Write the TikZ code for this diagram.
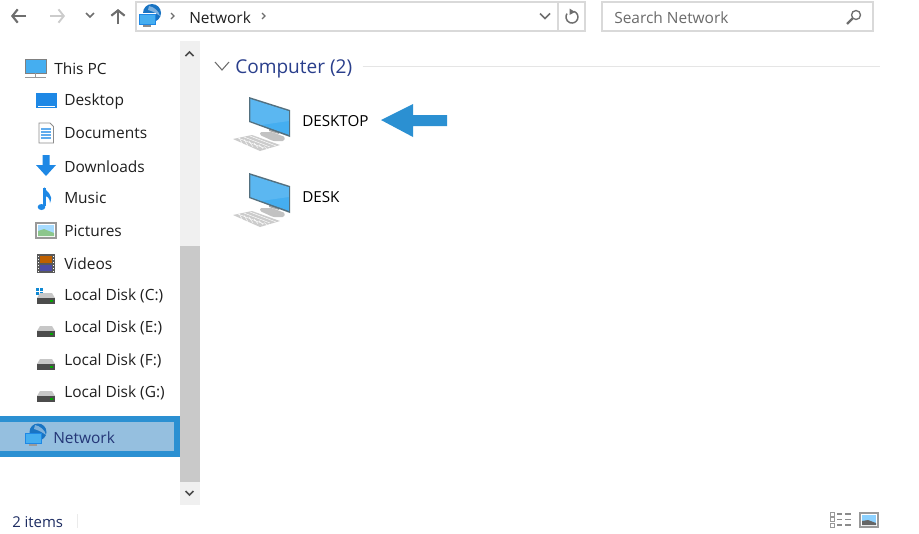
\documentclass[tikz,border=0pt]{standalone}
\usepackage{fontspec}
\usetikzlibrary{arrows.meta}
\setmainfont{Open Sans}
\definecolor{hlblue}{HTML}{2B90D2}
\definecolor{hlfill}{HTML}{95BFDF}
\definecolor{scrtrack}{HTML}{F0F0F0}
\definecolor{scrthumb}{HTML}{C9C9C9}
\definecolor{framegray}{HTML}{D9D9D9}
\definecolor{navgray}{HTML}{6E6E6E}
\definecolor{headblue}{HTML}{2A3F8C}
\definecolor{screenblue}{HTML}{45AEF0}
\definecolor{screenedge}{HTML}{54707F}
\definecolor{folderblue}{HTML}{1E88E5}
\tikzset{
  x=0.75pt,y=-0.75pt,
  itemtext/.style={font=\fontsize{11.6pt}{14pt}\selectfont,text=black!88,anchor=west,inner sep=0pt,yshift=-1pt},
  hosttext/.style={font=\fontsize{11.4pt}{14pt}\selectfont,text=black,anchor=west,inner sep=0pt,yshift=-0.8pt},
  navline/.style={navgray,line width=1.6pt},
  framebox/.style={draw=framegray,line width=0.9pt,fill=white},
  smallchev/.style={line width=1.2pt,draw=navgray},
  pics/bigpc/.style={code={
    \fill[black!20] (-16,42) -- (3,38) -- (31,48) -- (11,54) -- cycle;
    \foreach \i in {0,1,2}{\draw[white,line width=0.35pt] (-11+6*\i,41-1*\i) -- (15+6*\i,51-1*\i);}
    \foreach \i in {0,1,2,3,4,5,6}{\draw[white,line width=0.35pt] (-10+5*\i,40.5+1.8*\i) -- (-6+5*\i,48+0.9*\i);}
    \fill[black!24,rounded corners=1pt] (11,35) -- (23,35) -- (36,40) -- (35,44) -- (24,44) -- (11,38) -- cycle;
    \fill[black!35] (20,28) -- (30,31) -- (30,37) -- (20,34) -- cycle;
    \fill[screenedge] (0,0) -- (41,13) -- (41,40) -- (0,25) -- cycle;
    \fill[screenblue] (1.3,2) -- (39.8,14.2) -- (39.8,37.8) -- (1.3,24) -- cycle;
    \fill[white,opacity=0.12] (1.3,2) -- (39.8,14.2) -- (39.8,24) -- (12,28) -- (1.3,24) -- cycle;
  }},
  pics/drive/.style={code={
    \fill[black!22] (2,-4) -- (14,-4) -- (17,1) -- (-1,1) -- cycle;
    \fill[black!70] (-1,1) rectangle (17,7);
    \fill[green!65!black] (12,3) rectangle (15,5);
  }},
  pics/netglobe/.style={code={
    \fill[folderblue!85!black] (9,-1) circle[radius=9];
    \fill[white,opacity=0.45] (6,-8) .. controls (11,-7) and (16,-3) .. (17,2) .. controls (13,-1) and (9,-3) .. (5,-4) -- cycle;
    \fill[white] (-4.8,-0.8) rectangle (12.8,10.8);
    \fill[screenblue] (-4,0) rectangle (12,10);
    \draw[folderblue,line width=0.6pt] (-4,0) rectangle (12,10);
    \draw[black!45,line width=0.8pt] (0,12) -- (8,12);
  }},
}
\begin{document}
\begin{tikzpicture}
\useasboundingbox (0,0) rectangle (919,533);
\fill[white] (0,0) rectangle (919,533);

% Navigation arrows
\coordinate (backa) at (26,16); \coordinate (backb) at (11,16);
\draw[navline,-{Straight Barb[length=4pt,width=10pt]}] (backa) -- (backb);
\coordinate (fwda) at (50,16); \coordinate (fwdb) at (65,16);
\draw[navgray!35,line width=1.4pt,-{Straight Barb[length=4pt,width=10pt]}] (fwda) -- (fwdb);
\draw[smallchev] (86,13) -- (90,17) -- (94,13);
\coordinate (upa) at (118,24); \coordinate (upb) at (118,9);
\draw[navline,-{Straight Barb[length=4pt,width=10pt]}] (upa) -- (upb);

% Address bar
\draw[framebox] (136,2) rectangle (585,31);
\draw[framegray,line width=0.9pt] (558,2) -- (558,31);
\pic at (143,14) {netglobe};
\draw[navgray,line width=1pt] (171,13) -- (174,16) -- (171,19);
\node[itemtext] (crumb) at (189,16) {Network};
\draw[navgray,line width=1pt] (262,13) -- (265,16) -- (262,19);
\draw[smallchev] (540,13.5) -- (545,18.5) -- (550,13.5);
\draw[navgray,line width=1.1pt] (574,11.4) arc[start angle=-70,end angle=215,radius=6];
\fill[navgray] (569.5,8.5) -- (575,12) -- (569.5,15) -- cycle;

% Search box
\draw[framebox] (602,2) rectangle (873,31);
\node[itemtext,text=black!58] (search) at (614,16) {Search Network};
\draw[navgray,line width=1pt] (856,15) circle[radius=4.5];
\draw[navgray,line width=1.8pt] (852.5,18.5) -- (847,24);

% Sidebar scrollbar
\fill[scrtrack] (180,41) rectangle (200,505);
\fill[scrthumb] (180,246) rectangle (200,482);
\draw[black!70,line width=1.2pt] (185.5,56) -- (189.5,52) -- (193.5,56);
\draw[black!70,line width=1.2pt] (185.5,491) -- (189.5,495) -- (193.5,491);

% Highlighted row
\fill[hlfill] (0,419) rectangle (176,454);
\draw[hlblue,line width=4.5pt] (0,419) -- (176.5,419) -- (176.5,454) -- (0,454);

% This PC
\fill[screenblue] (25,59) rectangle (46,73);
\draw[black!50,line width=0.6pt] (25,59) rectangle (46,73);
\draw[black!40,line width=0.9pt] (25,77.5) -- (46,77.5);
\draw[black!40,line width=0.8pt] (35.5,73) -- (35.5,77);
\node[itemtext] (thispc) at (54,67) {This PC};

% Desktop
\fill[folderblue] (36,93) rectangle (57,108);
\fill[white] (38,105.5) rectangle (55,106.2);
\node[itemtext] (desktopitem) at (64,100) {Desktop};

% Documents
\draw[black!45,fill=white,line width=0.6pt] (39,123) -- (50,123) -- (53.5,126.5) -- (53.5,143) -- (39,143) -- cycle;
\foreach \yy in {129,132,135,138}{\draw[folderblue!70,line width=0.8pt] (41,\yy) -- (51,\yy);}
\node[itemtext] (documents) at (64,132) {Documents};

% Downloads
\fill[folderblue] (42.5,155) -- (49.5,155) -- (49.5,165) -- (56,165) -- (46,176) -- (36,165) -- (42.5,165) -- cycle;
\node[itemtext] (downloads) at (64,165) {Downloads};

% Music
\fill[folderblue] (41.5,207) ellipse[x radius=3.8,y radius=3];
\draw[folderblue,line width=1.7pt] (44.6,206) -- (44.6,188);
\fill[folderblue] (44,187) .. controls (46,192) and (54,194) .. (50,203) .. controls (50,198) and (47,196) .. (44,195) -- cycle;
\node[itemtext] (music) at (64,197) {Music};

% Pictures
\draw[black!40,fill=white,line width=0.9pt] (36,223) rectangle (56,238);
\fill[blue!40!cyan!35] (38,225) rectangle (54,236);
\fill[black!50!green!45] (38,236) -- (38,231) -- (44,229) -- (54,233) -- (54,236) -- cycle;
\node[itemtext] (pictures) at (64,230) {Pictures};

% Videos
\fill[black!65] (37,253.5) rectangle (55,273);
\fill[orange!75!black] (40,256) rectangle (52,263);
\fill[blue!50!black!70] (40,265) rectangle (52,271);
\foreach \yy in {256,259,262,265,268,271}{\fill[white] (38,\yy) rectangle (39,\yy+1); \fill[white] (53,\yy) rectangle (54,\yy+1);}
\node[itemtext] (videos) at (64,262) {Videos};

% Drives
\fill[cyan!70!blue] (36,288) rectangle (39,291);
\fill[cyan!70!blue] (40,288) rectangle (43,291);
\fill[cyan!70!blue] (36,292) rectangle (39,295);
\fill[cyan!70!blue] (40,292) rectangle (43,295);
\pic at (38,297) {drive};
\node[itemtext] (diskc) at (64,295) {Local Disk (C:)};
\pic at (38,330) {drive};
\node[itemtext] (diske) at (64,327) {Local Disk (E:)};
\pic at (38,363) {drive};
\node[itemtext] (diskf) at (64,360) {Local Disk (F:)};
\pic at (38,395) {drive};
\node[itemtext] (diskg) at (64,392) {Local Disk (G:)};

% Network row
\begin{scope}[shift={(29,433)}]
\fill[folderblue!85!black] (9,-1) circle[radius=8.5];
\fill[hlfill!60!white,opacity=0.6] (6,-8) .. controls (11,-7) and (16,-3) .. (17,2) .. controls (13,-1) and (9,-3) .. (5,-4) -- cycle;
\fill[screenblue] (-4,0) rectangle (12,10);
\draw[folderblue,line width=0.6pt] (-4,0) rectangle (12,10);
\draw[black!40,line width=0.8pt] (0,12) -- (8,12);
\end{scope}
\node[itemtext,text=headblue!85!black] (networkitem) at (53,436) {Network};

% Group header
\draw[navgray,line width=0.8pt] (215,62) -- (222,70) -- (229,62);
\node[anchor=west,inner sep=0pt,yshift=-2.2pt,font=\fontsize{14.3pt}{17pt}\selectfont,text=headblue] (group) at (235,66) {Computer (2)};
\coordinate (ruleend) at (880,66.5);
\draw[black!10,line width=0.9pt] (group.east |- ruleend) ++(10,0) -- (ruleend);

% Computers
\pic at (249,97) {bigpc};
\node[hosttext] (host1) at (302,120) {DESKTOP};
\pic at (249,173) {bigpc};
\node[hosttext] (host2) at (302,196) {DESK};

% Callout arrow
\fill[hlblue] (381,120) -- (413,104) -- (413,115) -- (447,115) -- (447,126) -- (413,126) -- (413,137) -- cycle;

% Status bar
\node[anchor=west,inner sep=0pt,yshift=-0.8pt,font=\fontsize{11.2pt}{14pt}\selectfont,text=headblue!70!black] (status) at (12,521) {2 items};
\draw[black!8,line width=0.6pt] (77,514) -- (77,528);

% View buttons
\foreach \yy in {514,519.5,525}{
  \draw[black!40,line width=0.7pt] (830,\yy-2) rectangle (834,\yy+2);
  \draw[black!45,line width=1pt] (837,\yy) -- (842,\yy);
  \draw[black!45,line width=1pt] (845,\yy) -- (851,\yy);
}
\draw[black!40,fill=white,line width=0.9pt] (860,513) rectangle (878,527);
\fill[blue!40!cyan!45] (862,515) rectangle (876,525);
\fill[black!60] (862,525) -- (862,521) -- (868,520) -- (876,523) -- (876,525) -- cycle;
\end{tikzpicture}
\end{document}
